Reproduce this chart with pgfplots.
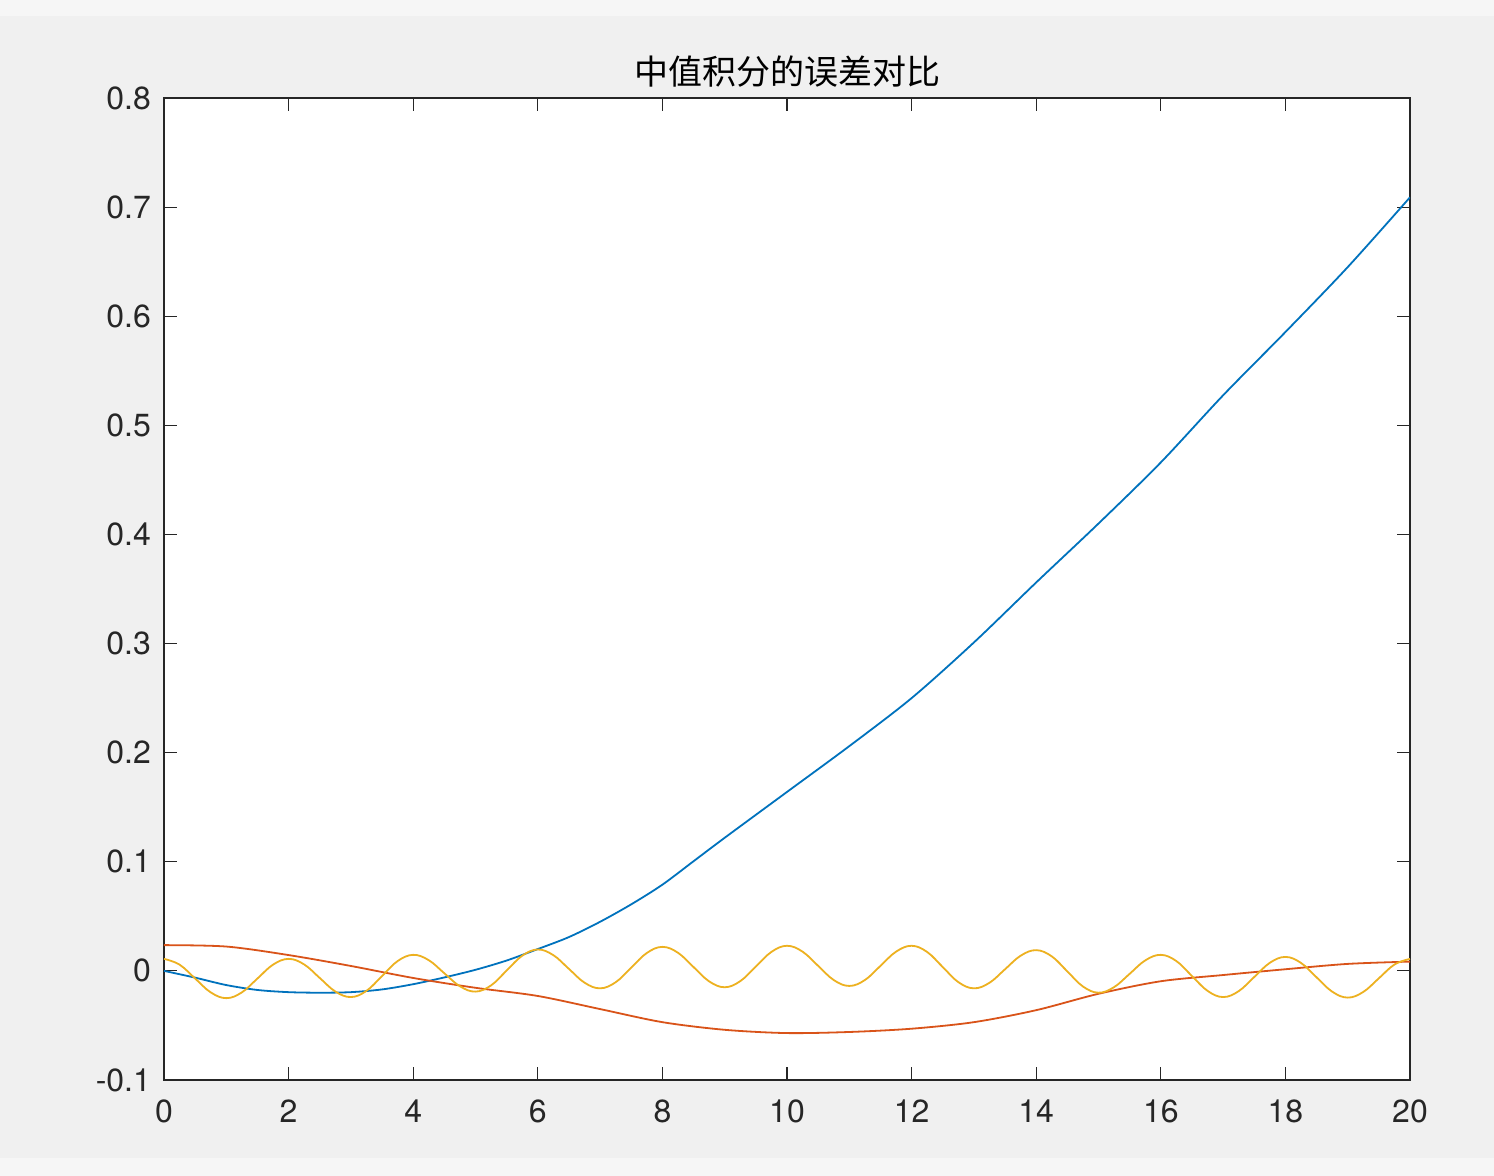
\documentclass[border=0pt]{standalone}
\usepackage{fontspec}
\setmainfont{TeX Gyre Heros}
\newfontfamily\cjk{Noto Sans CJK SC}
\usepackage{pgfplots}
\pgfplotsset{compat=1.18}

\definecolor{mblue}{rgb}{0,0.447,0.741}
\definecolor{morange}{rgb}{0.85,0.325,0.098}
\definecolor{myellow}{rgb}{0.929,0.694,0.125}
\definecolor{figbg}{HTML}{F0F0F0}
\definecolor{axcol}{rgb}{0.15,0.15,0.15}

\begin{document}
\begin{tikzpicture}
\fill[figbg] (-82pt,-48pt) rectangle (665pt,540pt);
\fill[white!40!figbg] (-82pt,532pt) rectangle (665pt,540pt);
\fill[white!40!figbg] (-82pt,-48pt) rectangle (665pt,-39pt);
\useasboundingbox (-82pt,-48pt) rectangle (665pt,540pt);
\begin{axis}[
    scale only axis,
    width=623pt, height=491pt,
    xmin=0, xmax=20, ymin=-0.1, ymax=0.8,
    xtick={0,2,...,20},
    ytick={-0.1,0,0.1,0.2,0.3,0.4,0.5,0.6,0.7,0.8},
    yticklabels={-0.1,0,0.1,0.2,0.3,0.4,0.5,0.6,0.7,0.8},
    xticklabels={0,2,4,6,8,10,12,14,16,18,20},
    tick pos=both,
    tick align=inside,
    major tick length=6.5pt,
    axis line style={axcol, line width=0.6pt},
    every tick/.style={axcol, line width=0.6pt},
    axis background/.style={fill=white},
    tick label style={font=\fontsize{16}{19}\selectfont, text=axcol},
    yticklabel style={xshift=-3pt},
    xticklabel style={yshift=-6.5pt},
    title={\cjk 中值积分的误差对比},
    title style={font=\fontsize{17}{20}\selectfont, at={(0.5,1)}, anchor=south, yshift=-4pt},
]
% blue
\addplot[mblue, line width=0.9pt, smooth] coordinates {
(0,0) (0.5,-0.0062) (1,-0.013) (1.5,-0.0175) (2,-0.0195) (2.5,-0.020) (3,-0.0195)
(3.5,-0.017) (4,-0.0122) (4.5,-0.006) (5,0.001) (5.5,0.0095) (6,0.020) (6.5,0.031)
(7,0.045) (7.5,0.061) (8,0.079) (8.5,0.1005) (9,0.122) (10,0.164) (11,0.206) (12,0.250) (13,0.301)
(14,0.356) (15,0.410) (16,0.466) (17,0.5275) (18,0.5855) (19,0.645) (20,0.709)
};
% orange
\addplot[morange, line width=0.9pt, smooth] coordinates {
(0,0.0236) (1,0.0223) (2,0.0145) (3,0.0045) (4,-0.0065) (5,-0.0155) (6,-0.023)
(7,-0.035) (8,-0.047) (9,-0.054) (10,-0.057) (11,-0.056) (12,-0.053) (13,-0.047)
(14,-0.036) (15,-0.021) (16,-0.0095) (17,-0.0038) (18,0.0015) (19,0.0064) (20,0.0085)
};
% yellow
\addplot[myellow, line width=0.9pt, smooth, tension=0.65] coordinates {
(0,0.011) (0.25,0.0057) (0.5,-0.007) (0.75,-0.0197)
(1,-0.025) (1.25,-0.0197) (1.5,-0.007) (1.75,0.0057)
(2,0.011) (2.25,0.0059) (2.5,-0.0065) (2.75,-0.0189)
(3,-0.024) (3.25,-0.0183) (3.5,-0.0047) (3.75,0.0090)
(4,0.0147) (4.25,0.0098) (4.5,-0.0022) (4.75,-0.0141)
(5,-0.019) (5.25,-0.0133) (5.5,0.0003) (5.75,0.0139)
(6,0.0196) (6.25,0.0144) (6.5,0.0018) (6.75,-0.0108)
(7,-0.016) (7.25,-0.0104) (7.5,0.003) (7.75,0.0164)
(8,0.022) (8.25,0.0166) (8.5,0.0035) (8.75,-0.0096)
(9,-0.015) (9.25,-0.0094) (9.5,0.004) (9.75,0.0174)
(10,0.023) (10.25,0.0176) (10.5,0.0046) (10.75,-0.0084)
(11,-0.0138) (11.25,-0.0084) (11.5,0.0046) (11.75,0.0176)
(12,0.023) (12.25,0.0173) (12.5,0.0035) (12.75,-0.0103)
(13,-0.016) (13.25,-0.0109) (13.5,0.0015) (13.75,0.0139)
(14,0.019) (14.25,0.0133) (14.5,-0.0005) (14.75,-0.0143)
(15,-0.020) (15.25,-0.0149) (15.5,-0.0027) (15.75,0.0096)
(16,0.0147) (16.25,0.0090) (16.5,-0.0047) (16.75,-0.0183)
(17,-0.024) (17.25,-0.0186) (17.5,-0.0056) (17.75,0.0074)
(18,0.0128) (18.25,0.0073) (18.5,-0.0059) (18.75,-0.0190)
(19,-0.0245) (19.25,-0.0193) (19.5,-0.0068) (19.75,0.0058)
(20,0.011)
};
\end{axis}
\end{tikzpicture}
\end{document}
